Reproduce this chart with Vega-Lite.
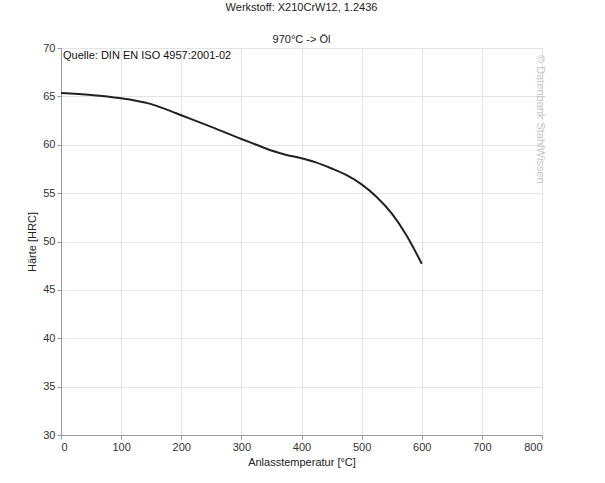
{
  "$schema": "https://vega.github.io/schema/vega-lite/v6.json",
  "autosize": "none",
  "width": 481,
  "height": 387,
  "padding": {"left": 61, "top": 48, "right": 63, "bottom": 48},
  "background": "white",
  "title": {
    "text": "Werkstoff: X210CrW12, 1.2436",
    "subtitle": "970°C -> Öl",
    "anchor": "middle",
    "fontSize": 11,
    "fontWeight": "normal",
    "subtitleFontSize": 11,
    "font": "Liberation Sans",
    "subtitleFont": "Liberation Sans",
    "color": "#222",
    "subtitleColor": "#222",
    "subtitlePadding": 21,
    "offset": -3
  },
  "config": {
    "view": {"stroke": null},
    "font": "Liberation Sans",
    "axis": {
      "gridColor": "#e4e4e4",
      "gridWidth": 1,
      "domainColor": "#999",
      "tickColor": "#999",
      "tickSize": 4,
      "labelFontSize": 11,
      "labelColor": "#333",
      "titleFontSize": 11,
      "titleFontWeight": "normal",
      "titleColor": "#222",
      "labelFont": "Liberation Sans",
      "titleFont": "Liberation Sans"
    }
  },
  "datasets": {
    "curve": [
      {"temp": 0, "hrc": 65.35},
      {"temp": 50, "hrc": 65.15},
      {"temp": 100, "hrc": 64.8},
      {"temp": 125, "hrc": 64.55},
      {"temp": 150, "hrc": 64.2},
      {"temp": 175, "hrc": 63.65},
      {"temp": 200, "hrc": 63.05},
      {"temp": 250, "hrc": 61.85},
      {"temp": 300, "hrc": 60.6},
      {"temp": 325, "hrc": 60.0},
      {"temp": 350, "hrc": 59.4},
      {"temp": 375, "hrc": 58.95},
      {"temp": 400, "hrc": 58.6},
      {"temp": 425, "hrc": 58.15},
      {"temp": 450, "hrc": 57.55},
      {"temp": 475, "hrc": 56.85},
      {"temp": 500, "hrc": 55.9},
      {"temp": 525, "hrc": 54.6},
      {"temp": 550, "hrc": 52.9},
      {"temp": 575, "hrc": 50.6},
      {"temp": 600, "hrc": 47.7}
    ]
  },
  "layer": [
    {
      "data": {"name": "curve"},
      "mark": {"type": "line", "color": "#222", "strokeWidth": 2, "interpolate": "monotone"},
      "encoding": {
        "x": {
          "field": "temp", "type": "quantitative",
          "scale": {"domain": [0, 800], "nice": false},
          "axis": {"values": [0,100,200,300,400,500,600,700,800], "title": "Anlasstemperatur [°C]", "titlePadding": 4, "labelPadding": 2}
        },
        "y": {
          "field": "hrc", "type": "quantitative",
          "scale": {"domain": [30, 70], "nice": false, "zero": false},
          "axis": {"values": [30,35,40,45,50,55,60,65,70], "title": "Härte [HRC]", "titlePadding": 5, "labelPadding": 2}
        }
      }
    },
    {
      "data": {"values": [{"label": "Quelle: DIN EN ISO 4957:2001-02", "t": 0, "h": 70}]},
      "mark": {"type": "text", "align": "left", "baseline": "top", "dx": 2, "dy": 2, "fontSize": 11, "color": "#111"},
      "encoding": {
        "x": {"field": "t", "type": "quantitative"},
        "y": {"field": "h", "type": "quantitative"},
        "text": {"field": "label"}
      }
    },
    {
      "data": {"values": [{"label": "© Datenbank StahlWissen", "t": 800, "h": 70}]},
      "mark": {"type": "text", "align": "left", "baseline": "middle", "angle": 90, "dx": 7, "dy": 2, "fontSize": 11, "color": "#c8c8c8"},
      "encoding": {
        "x": {"field": "t", "type": "quantitative"},
        "y": {"field": "h", "type": "quantitative"},
        "text": {"field": "label"}
      }
    }
  ]
}
